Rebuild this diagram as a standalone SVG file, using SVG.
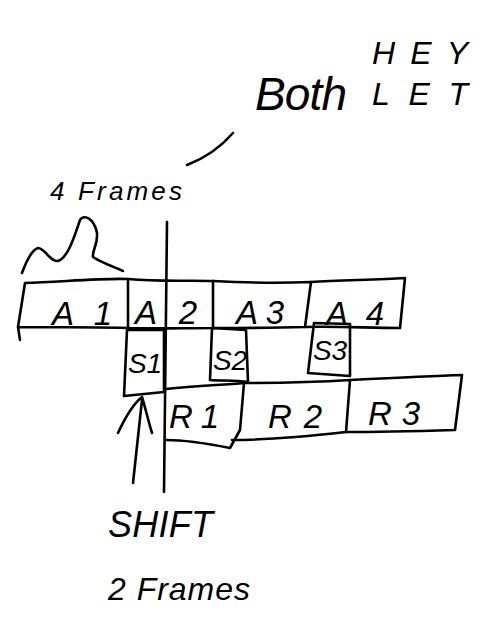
<svg xmlns="http://www.w3.org/2000/svg" width="492" height="635" viewBox="0 0 492 635">
<defs>
<style>
.ln{fill:none;stroke:#000;stroke-width:2.6;stroke-linecap:round;stroke-linejoin:round}
.t{font-family:"Liberation Sans",Arial,sans-serif;font-style:italic;fill:#000}
.lbl{font-size:33px;text-anchor:middle}
.sl{font-size:28px;text-anchor:middle}
</style>
</defs>
<rect width="492" height="635" fill="#fff"/>

<g id="notes">
<text class="t" x="255" y="110" font-size="46" textLength="92">Both</text>
<text class="t" x="372" y="64" font-size="32" textLength="96">HEY</text>
<text class="t" x="372" y="105" font-size="32" textLength="96">LET</text>
<text class="t" x="50" y="200" font-size="26" textLength="132">4 Frames</text>
<text class="t" x="108" y="537" font-size="36" textLength="105">SHIFT</text>
<text class="t" x="108" y="600" font-size="32" textLength="142">2 Frames</text>
</g>

<g id="A1">
<path class="ln" d="M25,283 C60,282 100,278 128,279 L128,328 C95,327 50,327 18,327 L25,283 M18,327 L20,340"/>
<text class="t lbl" x="82" y="325" textLength="60">A 1</text>
</g>
<g id="A2">
<path class="ln" d="M128,279 C160,282 190,280 213,281 L213,328 C185,328 150,329 128,328"/>
<text class="t lbl" x="166" y="324" textLength="62">A 2</text>
</g>
<g id="A3">
<path class="ln" d="M213,281 C250,283 285,283 311,282 L305,327 C270,328 240,328 213,328"/>
<text class="t lbl" x="260" y="324" textLength="48">A 3</text>
</g>
<g id="A4">
<path class="ln" d="M311,282 C340,280 375,280 405,278 L400,328 C370,328 335,326 305,327"/>
<text class="t lbl" x="355" y="325" textLength="58">A 4</text>
</g>

<g id="S1">
<path class="ln" d="M127,330 L164,330 L164,392 L124,396 Z"/>
<text class="t sl" x="145" y="373">S1</text>
</g>
<g id="S2">
<path class="ln" d="M212,328 L246,330 L248,382 C235,380 222,381 210,380 Z"/>
<text class="t sl" x="230" y="370">S2</text>
</g>
<g id="S3">
<path class="ln" d="M314,323 L350,324 L350,376 L308,373 Z"/>
<text class="t sl" x="330" y="360">S3</text>
</g>

<g id="R1">
<path class="ln" d="M166,389 C195,386 220,385 244,383 L240,430 L230,448 C210,444 185,440 166,440"/>
<text class="t lbl" x="194" y="428" textLength="50">R 1</text>
</g>
<g id="R2">
<path class="ln" d="M244,383 C280,383 320,382 350,380 L346,432 C310,436 270,440 232,440"/>
<text class="t lbl" x="295" y="428" textLength="54">R 2</text>
</g>
<g id="R3">
<path class="ln" d="M350,380 C390,378 430,376 462,375 L455,430 C420,431 380,432 346,432"/>
<text class="t lbl" x="394" y="425" textLength="52">R 3</text>
</g>

<g id="connectors">
<path class="ln" d="M167,222 L164,492" stroke-width="1.6"/>
<path class="ln" d="M187,165 C205,158 220,148 233,133"/>
<path class="ln" d="M22,273 C26,262 32,250 38,248 C45,248 50,262 58,261 C68,258 75,235 80,220 C84,214 94,218 97,233 C98,245 92,250 93,257 C100,262 112,266 123,271"/>
<path class="ln" d="M118,433 C124,420 132,405 142,397 C146,410 148,420 152,433 M142,400 L133,483"/>
</g>
</svg>
